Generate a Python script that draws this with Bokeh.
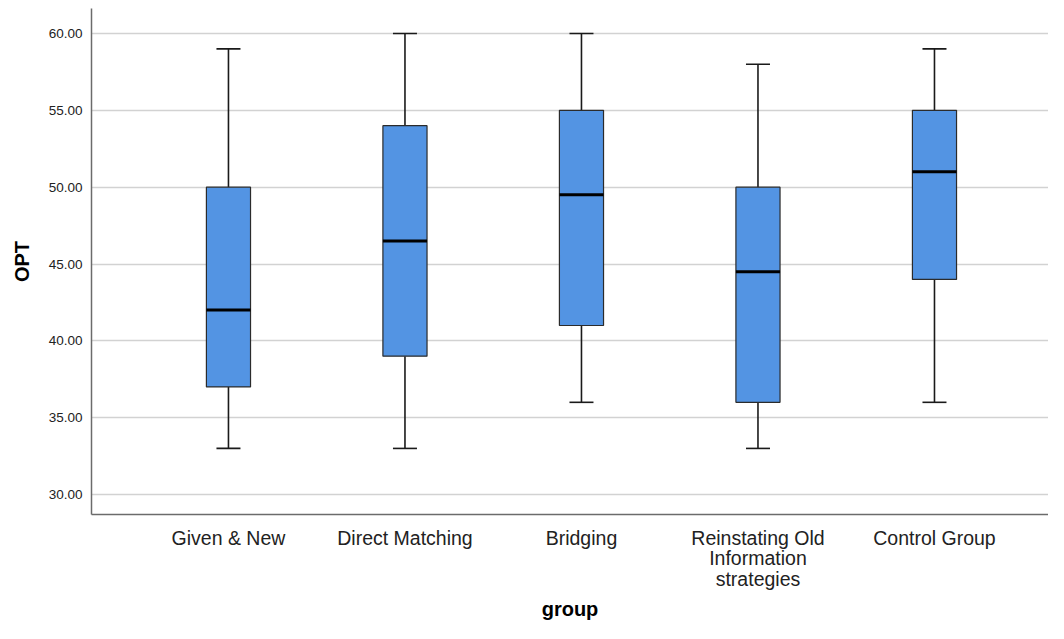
from bokeh.plotting import figure
from bokeh.models import FixedTicker, PrintfTickFormatter, Range1d
from bokeh.embed import file_html
from bokeh.resources import INLINE

categories = ["Given & New", "Direct Matching", "Bridging",
              "Reinstating Old\nInformation\nstrategies", "Control Group"]
mins = [33, 33, 36, 33, 36]
q1s = [37, 39, 41, 36, 44]
medians = [42, 46.5, 49.5, 44.5, 51]
q3s = [50, 54, 55, 50, 55]
maxs = [59, 60, 60, 58, 59]
y_ticks = [30, 35, 40, 45, 50, 55, 60]

xs = list(range(len(categories)))
box_w = 0.25
cap_w = 0.136

p = figure(width=1048, height=623, output_backend="svg", toolbar_location=None,
           x_range=Range1d(-0.776, 4.646), y_range=Range1d(28.70, 61.627),
           min_border_left=91, min_border_right=0, min_border_top=8,
           min_border_bottom=100)
p.outline_line_color = None
p.background_fill_color = "white"

# whiskers
p.segment(x0=xs, y0=q3s, x1=xs, y1=maxs, line_color="#1a1a1a", line_width=1.6)
p.segment(x0=xs, y0=mins, x1=xs, y1=q1s, line_color="#1a1a1a", line_width=1.6)
p.segment(x0=[x - cap_w / 2 for x in xs], y0=maxs, x1=[x + cap_w / 2 for x in xs], y1=maxs,
          line_color="#1a1a1a", line_width=1.6)
p.segment(x0=[x - cap_w / 2 for x in xs], y0=mins, x1=[x + cap_w / 2 for x in xs], y1=mins,
          line_color="#1a1a1a", line_width=1.6)
# boxes
p.vbar(x=xs, width=box_w, bottom=q1s, top=q3s, fill_color="#5394e3",
       line_color="#2b2b2b", line_width=1.2)
# medians
p.segment(x0=[x - box_w / 2 for x in xs], y0=medians, x1=[x + box_w / 2 for x in xs], y1=medians,
          line_color="black", line_width=3)

# axes
p.xgrid.grid_line_color = None
p.ygrid.grid_line_color = "#d2d2d2"
p.ygrid.grid_line_width = 1.5
p.ygrid.ticker = FixedTicker(ticks=y_ticks)

p.yaxis.ticker = FixedTicker(ticks=y_ticks)
p.yaxis.formatter = PrintfTickFormatter(format="%.2f")
p.yaxis.major_tick_line_color = None
p.yaxis.minor_tick_line_color = None
p.yaxis.axis_line_color = "#6b6b6b"
p.yaxis.axis_line_width = 1.5
p.yaxis.major_label_text_font = "Liberation Sans"
p.yaxis.major_label_text_font_size = "13.5px"
p.yaxis.major_label_text_color = "#222222"
p.yaxis.major_label_standoff = 3
p.yaxis.axis_label = "OPT"
p.yaxis.axis_label_text_font = "Liberation Sans"
p.yaxis.axis_label_text_font_style = "bold"
p.yaxis.axis_label_text_font_size = "20px"
p.yaxis.axis_label_text_color = "black"
p.yaxis.axis_label_standoff = 13

p.xaxis.ticker = FixedTicker(ticks=xs)
p.xaxis.major_label_overrides = {i: c for i, c in enumerate(categories)}
p.xaxis.major_tick_line_color = None
p.xaxis.minor_tick_line_color = None
p.xaxis.axis_line_color = "#6b6b6b"
p.xaxis.axis_line_width = 1.5
p.xaxis.major_label_text_font = "Liberation Sans"
p.xaxis.major_label_text_font_size = "19.5px"
p.xaxis.major_label_text_line_height = 0.95
p.xaxis.major_label_text_color = "#222222"
p.xaxis.major_label_standoff = 6
p.xaxis.axis_label = "group"
p.xaxis.axis_label_text_font = "Liberation Sans"
p.xaxis.axis_label_text_font_style = "bold"
p.xaxis.axis_label_text_font_size = "20px"
p.xaxis.axis_label_text_color = "black"
p.xaxis.axis_label_standoff = 5

open("out.html", "w").write(file_html(p, INLINE))
